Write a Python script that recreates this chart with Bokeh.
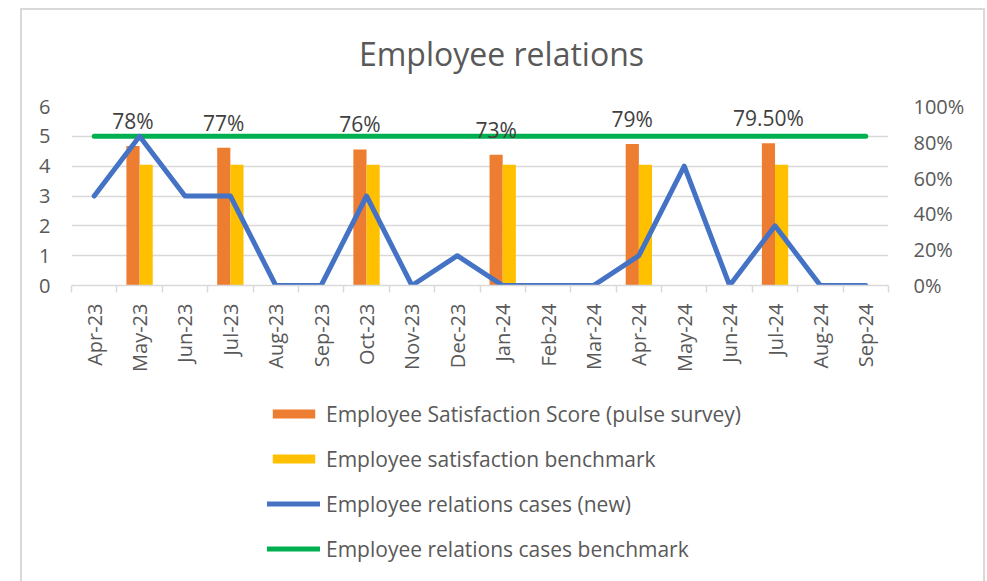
import math
from bokeh.plotting import figure
from bokeh.layouts import column
from bokeh.models import (Range1d, LinearAxis, FixedTicker, NumeralTickFormatter,
                          Legend, LegendItem, ColumnDataSource, Label)
from bokeh.core.properties import value
from bokeh.embed import file_html
from bokeh.resources import INLINE

# ---- data ----
title_text = "Employee relations"
months = ["Apr-23", "May-23", "Jun-23", "Jul-23", "Aug-23", "Sep-23", "Oct-23", "Nov-23",
          "Dec-23", "Jan-24", "Feb-24", "Mar-24", "Apr-24", "May-24", "Jun-24", "Jul-24",
          "Aug-24", "Sep-24"]
cases_new = [3, 5, 3, 3, 0, 0, 3, 0, 1, 0, 0, 0, 1, 4, 0, 2, 0, 0]
cases_benchmark = [5] * 18
survey_months = ["May-23", "Jul-23", "Oct-23", "Jan-24", "Apr-24", "Jul-24"]
satisfaction_score = [0.78, 0.77, 0.76, 0.73, 0.79, 0.795]
satisfaction_benchmark = [0.675, 0.675, 0.675, 0.675, 0.675, 0.675]
score_labels = ["78%", "77%", "76%", "73%", "79%", "79.50%"]
left_ticks = [0, 1, 2, 3, 4, 5, 6]
right_ticks = [0, 0.2, 0.4, 0.6, 0.8, 1.0]
series_names = ["Employee Satisfaction Score (pulse survey)", "Employee satisfaction benchmark",
                "Employee relations cases (new)", "Employee relations cases benchmark"]

FONT = "Open Sans"
TXT = "#595959"
GRID = "#d9d9d9"
ORANGE = "#ED7D31"
YELLOW = "#FFC000"
BLUE = "#4472C4"
GREEN = "#00B050"

idx = list(range(len(months)))
bar_idx = [months.index(m) for m in survey_months]
bar_w = 0.29

bars = ColumnDataSource(dict(
    xo=[i - bar_w / 2 for i in bar_idx],
    xy=[i + bar_w / 2 for i in bar_idx],
    score=satisfaction_score,
    bench=satisfaction_benchmark,
    lab=score_labels,
))
lines = ColumnDataSource(dict(x=idx, cases=cases_new, bench=cases_benchmark))


def blank(fig):
    fig.axis.visible = False
    fig.grid.visible = False
    fig.outline_line_color = None
    fig.background_fill_color = "white"
    fig.border_fill_color = "white"


# ---- title panel ----
t = figure(width=961, height=76, output_backend="svg", toolbar_location=None,
           x_range=Range1d(0, 1), y_range=Range1d(0, 1),
           min_border_left=0, min_border_right=0, min_border_top=0, min_border_bottom=0)
blank(t)
t.add_layout(Label(x=430, y=33, x_units="screen", y_units="screen", text=title_text,
                   text_font=FONT, text_font_size="32px", text_color=TXT,
                   text_align="center", text_baseline="alphabetic"))

# ---- main chart ----
p = figure(width=961, height=299, output_backend="svg", toolbar_location=None,
           x_range=Range1d(-0.5, len(months) - 0.5), y_range=Range1d(0, 6),
           min_border_left=49, min_border_right=95, min_border_top=20,
           min_border_bottom=100)
p.outline_line_color = None
p.background_fill_color = "white"
p.border_fill_color = "white"
p.extra_y_ranges = {"pct": Range1d(0, 1)}

p.xaxis.ticker = FixedTicker(ticks=idx, minor_ticks=[i - 0.5 for i in range(len(months) + 1)])
p.xaxis.major_label_overrides = {i: m for i, m in zip(idx, months)}
p.xaxis.major_label_orientation = math.pi / 2
p.xaxis.major_tick_out = 0
p.xaxis.major_tick_in = 0
p.xaxis.minor_tick_out = 7
p.xaxis.minor_tick_in = 0
p.xaxis.minor_tick_line_color = GRID
p.xaxis.minor_tick_line_width = 1.5
p.xaxis.axis_line_color = GRID
p.xaxis.axis_line_width = 1.5
p.xaxis.major_label_standoff = 11
p.xaxis.major_label_text_font = FONT
p.xaxis.major_label_text_font_size = "20px"
p.xaxis.major_label_text_color = TXT

p.yaxis.ticker = FixedTicker(ticks=left_ticks)
p.yaxis.axis_line_color = None
p.yaxis.major_tick_line_color = None
p.yaxis.minor_tick_line_color = None
p.yaxis.major_label_standoff = 15
p.yaxis.major_label_text_font = FONT
p.yaxis.major_label_text_font_size = "20px"
p.yaxis.major_label_text_color = TXT

raxis = LinearAxis(y_range_name="pct", ticker=FixedTicker(ticks=right_ticks),
                   formatter=NumeralTickFormatter(format="0%"))
raxis.axis_line_color = None
raxis.major_tick_line_color = None
raxis.minor_tick_line_color = None
raxis.major_label_standoff = 19
raxis.major_label_text_font = FONT
raxis.major_label_text_font_size = "20px"
raxis.major_label_text_color = TXT
p.add_layout(raxis, "right")

p.xgrid.grid_line_color = None
p.ygrid.grid_line_color = GRID
p.ygrid.grid_line_width = 1.5


def draw_series(fig):
    r1 = fig.vbar(x="xo", top="score", width=bar_w, source=bars, y_range_name="pct",
                  fill_color=ORANGE, line_color=None)
    r2 = fig.vbar(x="xy", top="bench", width=bar_w, source=bars, y_range_name="pct",
                  fill_color=YELLOW, line_color=None)
    r4 = fig.line(x="x", y="bench", source=lines, line_color=GREEN, line_width=5,
                  line_cap="round")
    r3 = fig.line(x="x", y="cases", source=lines, line_color=BLUE, line_width=5,
                  line_cap="round", line_join="round")
    return [r1, r2, r3, r4]


draw_series(p)

p.text(x="xo", y="score", text="lab", source=bars, y_range_name="pct",
       text_font=value(FONT), text_font_size="21px", text_color="#404040",
       text_align="center", text_baseline="alphabetic", y_offset=-25)

# ---- legend panel: series drawn out of view, only the key shows ----
q = figure(width=961, height=196, output_backend="svg", toolbar_location=None,
           x_range=Range1d(100, 101), y_range=Range1d(100, 101),
           min_border_left=0, min_border_right=0, min_border_top=0, min_border_bottom=0)
q.extra_y_ranges = {"pct": Range1d(100, 101)}
blank(q)
key_renderers = draw_series(q)

legend = Legend(items=[LegendItem(label=n, renderers=[r])
                       for n, r in zip(series_names, key_renderers)],
                location=(196, 18), orientation="vertical")
legend.label_text_font = FONT
legend.label_text_font_size = "21px"
legend.label_text_color = TXT
legend.glyph_width = 53
legend.glyph_height = 11
legend.label_height = 29
legend.label_standoff = 6
legend.spacing = 16
legend.padding = 0
legend.margin = 0
legend.border_line_color = None
legend.background_fill_alpha = 0
q.add_layout(legend, "center")

layout = column(t, p, q, spacing=0)
layout.margin = (8, 0, 0, 20)
layout.styles = {"border-top": "2px solid #d9d9d9", "border-left": "2px solid #d9d9d9",
                 "border-right": "2px solid #d9d9d9"}

open("out.html", "w").write(file_html(layout, INLINE))
